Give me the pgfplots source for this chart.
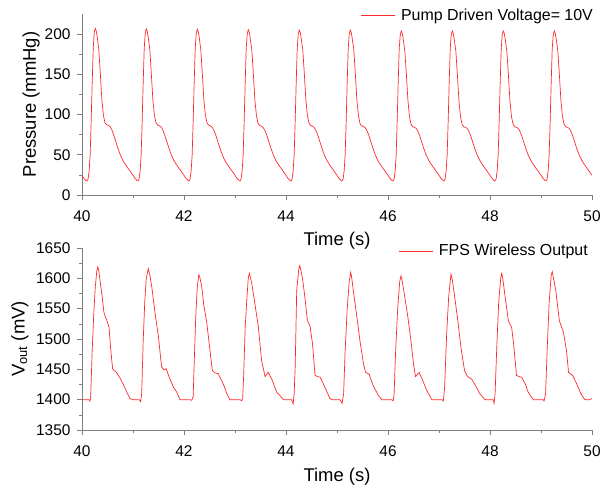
\documentclass[border=0pt]{standalone}
\usepackage{fontspec}
\setmainfont{Liberation Sans}
\usepackage{pgfplots}
\pgfplotsset{compat=1.18}

\definecolor{axgray}{RGB}{128,128,128}
\definecolor{sigred}{RGB}{255,40,40}

\pgfplotsset{
  panel/.style={
    scale only axis,
    width=510bp,
    xmin=40, xmax=50,
    xtick={40,42,...,50},
    minor x tick num=1,
    minor y tick num=1,
    axis x line*=bottom,
    axis y line*=left,
    axis line style={axgray,-},
    tick style={axgray, line width=0.6pt},
    major tick length=5bp,
    minor tick length=3bp,
    tick align=outside,
    /pgf/number format/assume math mode=true,
    /pgf/number format/1000 sep={},
    ticklabel style={font=\fontsize{15.5}{18}\selectfont, text=black},
    xticklabel style={yshift=-7bp},
    yticklabel style={xshift=-3bp},
    label style={font=\fontsize{18.5}{22}\selectfont},
    legend style={draw=none, fill=none, font=\fontsize{16}{19}\selectfont,
      inner xsep=0pt, inner ysep=0pt, cells={anchor=west}},
    legend image code/.code={\draw[#1] (0bp,0bp) -- (34bp,0bp); \path (38bp,0bp);},
    clip=false,
  },
}

\begin{document}
\begin{tikzpicture}
\path[use as bounding box] (0,0) rectangle (604bp,-489bp);

% upper panel: pump pressure
\begin{axis}[panel,
  at={(82bp,-195bp)}, anchor=south west,
  height=181bp,
  ymin=0, ymax=225,
  ytick={0,50,...,200},
  xlabel={Time (s)},
  xlabel style={at={(rel axis cs:0.5,-0.25)}, anchor=center},
  ylabel={Pressure (mmHg)},
  ylabel style={at={(rel axis cs:-0.10,0.5)}, anchor=center, rotate=0},
  legend style={at={(rel axis cs:1.006,0.994)}, anchor=east},
]
\addplot[sigred, line width=0.7pt] coordinates {
(40.00,24) (40.04,20.5) (40.08,17.8) (40.10,17.5) (40.12,20) (40.14,30) (40.16,50) (40.18,92) (40.20,140) (40.22,182) (40.24,202) (40.26,207) (40.28,204) (40.30,196) (40.33,180) (40.36,150) (40.39,118) (40.42,99) (40.45,90) (40.48,87.5) (40.52,86.5) (40.55,85) (40.58,82) (40.62,75) (40.66,67) (40.70,59) (40.75,50) (40.80,43) (40.85,38) (40.90,33.5) (40.95,29)
(41.00,24.5) (41.04,20.5) (41.08,18) (41.10,17.5) (41.12,20) (41.14,30) (41.16,50) (41.18,92) (41.20,140) (41.22,182) (41.24,201.5) (41.26,206.5) (41.28,203.5) (41.30,195.5) (41.33,180) (41.36,150) (41.39,118) (41.42,99) (41.45,90) (41.48,87) (41.52,86) (41.55,84.5) (41.58,81.5) (41.62,75) (41.66,67) (41.70,59) (41.75,50) (41.80,43) (41.85,38) (41.90,33.5) (41.95,29)
(42.00,24.5) (42.04,20.5) (42.08,18) (42.10,17.5) (42.12,20) (42.14,30) (42.16,50) (42.18,92) (42.20,140) (42.22,182) (42.24,201) (42.26,206) (42.28,203) (42.30,195) (42.33,180) (42.36,150) (42.39,118) (42.42,99) (42.45,90) (42.48,87) (42.52,86) (42.55,84.5) (42.58,81.5) (42.62,75) (42.66,67) (42.70,59) (42.75,50) (42.80,43) (42.85,38) (42.90,33.5) (42.95,29)
(43.00,24.5) (43.04,20.5) (43.08,18) (43.10,17.5) (43.12,20) (43.14,30) (43.16,50) (43.18,92) (43.20,140) (43.22,182) (43.24,200.5) (43.26,205.5) (43.28,202.5) (43.30,194.5) (43.33,180) (43.36,150) (43.39,118) (43.42,99) (43.45,89.5) (43.48,86.5) (43.52,85.5) (43.55,84) (43.58,81) (43.62,75) (43.66,67) (43.70,59) (43.75,50) (43.80,43) (43.85,38) (43.90,33.5) (43.95,29)
(44.00,24.5) (44.04,20.5) (44.08,18) (44.10,17.5) (44.12,20) (44.14,30) (44.16,50) (44.18,92) (44.20,140) (44.22,182) (44.24,200) (44.26,205) (44.28,202) (44.30,194) (44.33,180) (44.36,150) (44.39,118) (44.42,99) (44.45,89.5) (44.48,86.5) (44.52,85.5) (44.55,84) (44.58,81) (44.62,75) (44.66,67) (44.70,59) (44.75,50) (44.80,43) (44.85,38) (44.90,33.5) (44.95,29)
(45.00,24.5) (45.04,20.5) (45.08,18) (45.10,17.5) (45.12,20) (45.14,30) (45.16,50) (45.18,92) (45.20,140) (45.22,182) (45.24,200) (45.26,205) (45.28,202) (45.30,194) (45.33,180) (45.36,150) (45.39,118) (45.42,99) (45.45,89) (45.48,86) (45.52,85) (45.55,84) (45.58,81) (45.62,75) (45.66,67) (45.70,59) (45.75,50) (45.80,43) (45.85,38) (45.90,33.5) (45.95,29)
(46.00,24.5) (46.04,20.5) (46.08,18) (46.10,17.5) (46.12,20) (46.14,30) (46.16,50) (46.18,92) (46.20,140) (46.22,182) (46.24,199) (46.26,204) (46.28,201) (46.30,193) (46.33,179) (46.36,150) (46.39,118) (46.42,98) (46.45,88.5) (46.48,85) (46.52,84) (46.55,83) (46.58,80) (46.62,74) (46.66,66) (46.70,58) (46.75,49.5) (46.80,43) (46.85,38) (46.90,33.5) (46.95,29)
(47.00,24.5) (47.04,20.5) (47.08,18) (47.10,17.5) (47.12,20) (47.14,30) (47.16,50) (47.18,92) (47.20,140) (47.22,182) (47.24,199) (47.26,204) (47.28,201) (47.30,193) (47.33,179) (47.36,150) (47.39,118) (47.42,98) (47.45,88.5) (47.48,85) (47.52,84) (47.55,83) (47.58,80) (47.62,74) (47.66,66) (47.70,58) (47.75,49.5) (47.80,43) (47.85,38) (47.90,33.5) (47.95,29)
(48.00,24.5) (48.04,20.5) (48.08,18) (48.10,17.5) (48.12,20) (48.14,30) (48.16,50) (48.18,92) (48.20,140) (48.22,182) (48.24,199) (48.26,204) (48.28,201) (48.30,193) (48.33,179) (48.36,150) (48.39,118) (48.42,98) (48.45,88.5) (48.48,85) (48.52,84) (48.55,83) (48.58,80) (48.62,74) (48.66,66) (48.70,58) (48.75,49.5) (48.80,43) (48.85,38) (48.90,33.5) (48.95,29)
(49.00,24.5) (49.04,20.5) (49.08,18) (49.10,17.5) (49.12,20) (49.14,30) (49.16,50) (49.18,92) (49.20,140) (49.22,182) (49.24,199) (49.26,204) (49.28,201) (49.30,193) (49.33,179) (49.36,150) (49.39,118) (49.42,98) (49.45,88.5) (49.48,85) (49.52,84) (49.55,83) (49.58,80) (49.62,74) (49.66,66) (49.70,58) (49.75,49.5) (49.80,43) (49.85,38) (49.90,33.5) (49.95,29)
(50.00,24.5)
};
\addlegendentry{Pump Driven Voltage= 10V}
\end{axis}

% lower panel: sensor output
\begin{axis}[panel,
  at={(82bp,-430bp)}, anchor=south west,
  height=182bp,
  ymin=1350, ymax=1650,
  ytick={1350,1400,...,1650},
  xlabel={Time (s)},
  xlabel style={at={(rel axis cs:0.5,-0.258)}, anchor=center},
  ylabel={V\textsubscript{out} (mV)},
  ylabel style={at={(rel axis cs:-0.122,0.5)}, anchor=center, rotate=0},
  legend style={at={(rel axis cs:0.996,0.984)}, anchor=east},
]
\addplot[sigred, line width=0.7pt] coordinates {
(40.00,1400) (40.05,1400) (40.10,1400) (40.14,1400) (40.155,1397.5) (40.17,1405) (40.20,1481) (40.23,1540) (40.26,1585) (40.29,1612) (40.31,1619) (40.33,1612) (40.36,1592) (40.39,1574) (40.43,1544) (40.46,1536) (40.49,1530) (40.53,1519) (40.56,1486) (40.60,1451) (40.63,1448) (40.66,1447) (40.69,1443) (40.75,1435) (40.81,1425) (40.88,1412) (40.94,1402) (41.00,1400) (41.07,1400) (41.12,1400)
(41.15,1397) (41.17,1410) (41.20,1497) (41.23,1560) (41.26,1600) (41.30,1616) (41.33,1605) (41.37,1585) (41.43,1544) (41.50,1503) (41.56,1454) (41.61,1449) (41.65,1451) (41.71,1437) (41.79,1421) (41.86,1412) (41.92,1400) (42.00,1400) (42.10,1400) (42.15,1399)
(42.18,1405) (42.20,1460) (42.23,1536) (42.26,1585) (42.29,1606) (42.31,1602) (42.35,1585) (42.39,1555) (42.445,1528) (42.51,1481) (42.555,1448) (42.61,1444) (42.67,1443) (42.72,1434) (42.77,1426) (42.84,1410) (42.90,1400) (43.00,1400) (43.10,1400) (43.13,1398)
(43.15,1402) (43.17,1440) (43.20,1520) (43.23,1563) (43.26,1600) (43.28,1608) (43.30,1602) (43.33,1591) (43.39,1558) (43.46,1519) (43.52,1465) (43.59,1438) (43.65,1445) (43.72,1434) (43.82,1412) (43.88,1407) (43.95,1400) (44.05,1400) (44.11,1400) (44.14,1393)
(44.16,1410) (44.18,1454) (44.21,1580) (44.25,1615) (44.27,1621) (44.30,1610) (44.33,1596) (44.37,1569) (44.42,1530) (44.47,1522) (44.52,1492) (44.57,1440) (44.62,1438) (44.67,1437) (44.76,1421) (44.86,1402) (44.90,1400) (45.00,1400) (45.06,1400) (45.10,1394)
(45.13,1410) (45.16,1481) (45.20,1550) (45.24,1595) (45.27,1610) (45.29,1600) (45.32,1580) (45.39,1536) (45.45,1497) (45.52,1459) (45.56,1445) (45.63,1442) (45.71,1423) (45.81,1407) (45.88,1400) (46.00,1400) (46.07,1400) (46.10,1398)
(46.12,1410) (46.15,1481) (46.19,1550) (46.23,1595) (46.255,1604) (46.28,1595) (46.32,1574) (46.39,1536) (46.45,1497) (46.50,1459) (46.54,1438) (46.58,1442) (46.61,1445) (46.67,1434) (46.76,1415) (46.86,1400) (47.00,1400) (47.06,1400) (47.085,1398)
(47.11,1420) (47.15,1508) (47.19,1570) (47.235,1607) (47.26,1598) (47.30,1574) (47.37,1530) (47.43,1486) (47.50,1448) (47.56,1438) (47.64,1434) (47.71,1424) (47.80,1410) (47.90,1400) (48.00,1400) (48.06,1400) (48.08,1394)
(48.10,1410) (48.13,1481) (48.17,1560) (48.21,1600) (48.23,1608) (48.25,1600) (48.29,1574) (48.36,1530) (48.425,1519) (48.47,1486) (48.52,1440) (48.57,1438) (48.62,1437) (48.69,1426) (48.75,1412) (48.85,1400) (49.00,1400) (49.04,1400) (49.06,1398)
(49.09,1410) (49.12,1481) (49.16,1560) (49.20,1605) (49.22,1611) (49.25,1598) (49.29,1580) (49.36,1530) (49.44,1511) (49.50,1481) (49.54,1445) (49.62,1440) (49.70,1426) (49.78,1410) (49.86,1400) (49.95,1400) (50.00,1402)
};
\addlegendentry{FPS Wireless Output}
\end{axis}
\end{tikzpicture}
\end{document}
